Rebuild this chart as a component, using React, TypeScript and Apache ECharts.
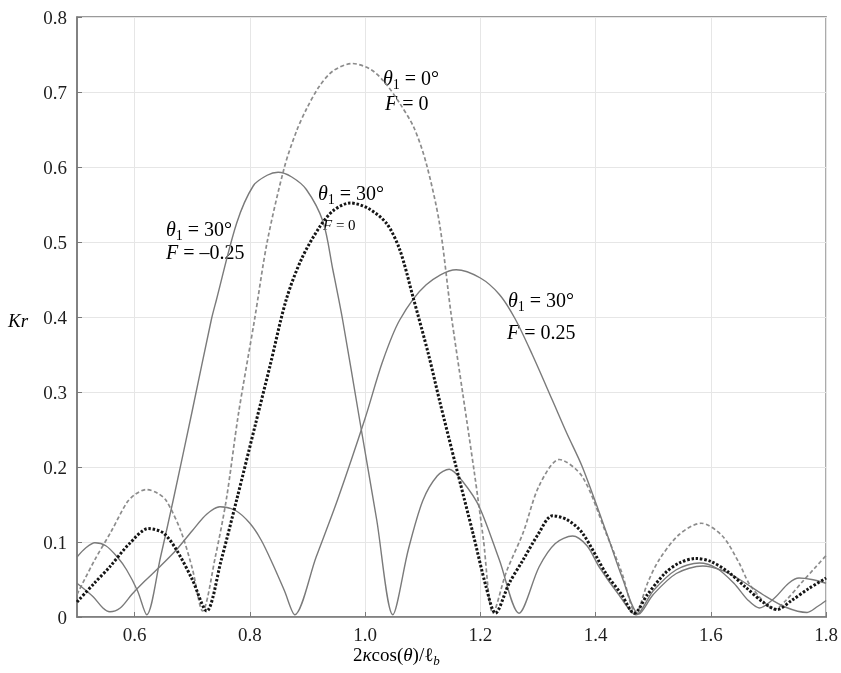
import React, { useEffect, useRef } from "react";
import * as echarts from "echarts";

// ---------- data ----------
const xTickValues = [0.6, 0.8, 1.0, 1.2, 1.4, 1.6, 1.8];

// theta1 = 0°, F = 0 (gray dashed)
const theta0X = [0.5,0.53,0.56,0.586,0.6,0.62,0.64,0.655,0.68,0.7,0.718,0.74,0.759,0.78,0.808,0.83,0.86,0.881,0.898,0.92,0.944,0.978,1.01,1.035,1.06,1.085,1.106,1.129,1.149,1.17,1.19,1.205,1.222,1.245,1.274,1.302,1.337,1.377,1.418,1.445,1.47,1.49,1.51,1.545,1.583,1.62,1.649,1.666,1.69,1.71,1.73,1.76,1.78,1.8];
const theta0Y = [0.03,0.075,0.115,0.152,0.163,0.17,0.165,0.155,0.115,0.065,0.008,0.08,0.156,0.27,0.396,0.5,0.6,0.648,0.677,0.707,0.728,0.738,0.73,0.712,0.685,0.652,0.605,0.525,0.405,0.295,0.19,0.105,0.005,0.06,0.112,0.175,0.21,0.187,0.112,0.06,0.005,0.045,0.076,0.11,0.125,0.108,0.072,0.045,0.022,0.01,0.022,0.048,0.065,0.082];

// theta1 = 30°, F = 0 (black dotted)
const t30F0X = [0.5,0.53,0.557,0.59,0.624,0.65,0.673,0.7,0.725,0.75,0.777,0.81,0.835,0.863,0.89,0.921,0.945,0.974,1.005,1.037,1.06,1.083,1.11,1.129,1.158,1.187,1.21,1.226,1.25,1.274,1.3,1.325,1.35,1.377,1.418,1.445,1.467,1.49,1.52,1.545,1.574,1.6,1.63,1.66,1.69,1.715,1.74,1.77,1.8];
const t30F0Y = [0.02,0.045,0.067,0.097,0.118,0.112,0.089,0.05,0.008,0.075,0.156,0.258,0.335,0.423,0.478,0.52,0.542,0.552,0.545,0.525,0.49,0.427,0.35,0.289,0.2,0.112,0.04,0.005,0.045,0.076,0.11,0.135,0.13,0.112,0.058,0.03,0.005,0.03,0.058,0.072,0.078,0.074,0.06,0.04,0.02,0.01,0.022,0.038,0.052];

// theta1 = 30°, F = -0.25 (gray solid)
const t30FmX = [0.5,0.515,0.531,0.55,0.57,0.586,0.605,0.621,0.645,0.667,0.7,0.733,0.742,0.777,0.806,0.83,0.849,0.872,0.898,0.927,0.944,0.961,0.99,1.02,1.048,1.075,1.1,1.125,1.146,1.17,1.198,1.233,1.267,1.302,1.33,1.36,1.385,1.406,1.44,1.47,1.5,1.54,1.58,1.61,1.64,1.665,1.684,1.71,1.735,1.753,1.775,1.8];
const t30FmY = [0.08,0.092,0.099,0.095,0.08,0.063,0.035,0.003,0.08,0.156,0.275,0.396,0.423,0.525,0.575,0.589,0.593,0.587,0.57,0.527,0.463,0.396,0.265,0.13,0.003,0.09,0.155,0.188,0.197,0.18,0.147,0.076,0.005,0.067,0.098,0.108,0.095,0.067,0.03,0.003,0.035,0.063,0.072,0.065,0.045,0.022,0.012,0.025,0.045,0.052,0.05,0.045];

// theta1 = 30°, F = 0.25 (gray solid)
const t30FpX = [0.5,0.528,0.545,0.557,0.575,0.595,0.615,0.645,0.673,0.7,0.725,0.748,0.775,0.8,0.82,0.84,0.86,0.878,0.915,0.952,1.0,1.03,1.06,1.106,1.158,1.2,1.233,1.26,1.29,1.325,1.35,1.377,1.42,1.445,1.475,1.5,1.54,1.586,1.62,1.65,1.69,1.73,1.767,1.785,1.8];
const t30FpY = [0.045,0.027,0.012,0.007,0.012,0.03,0.046,0.068,0.09,0.115,0.137,0.147,0.142,0.125,0.102,0.07,0.035,0.003,0.08,0.156,0.265,0.34,0.396,0.443,0.463,0.452,0.43,0.398,0.35,0.289,0.245,0.2,0.11,0.055,0.004,0.03,0.058,0.068,0.062,0.05,0.03,0.013,0.006,0.014,0.022];

const zip = (xs: number[], ys: number[]) => xs.map((x, i) => [x, ys[i]]);

const SERIF = "Liberation Serif";
const TXT = "#1e1e1e";
const AXIS = "#7a7a7a";
const GRIDC = "#e6e6e6";

function richFor(size: number) {
  const lh = Math.round(size * 1.35);
  const ss = Math.round(size * 0.68);
  return {
    n: { fontFamily: SERIF, fontSize: size, lineHeight: lh, color: TXT },
    i: { fontFamily: SERIF, fontSize: size, fontStyle: "italic", lineHeight: lh, color: TXT },
    s: { fontFamily: SERIF, fontSize: ss, lineHeight: ss, verticalAlign: "bottom", color: TXT },
    si: { fontFamily: SERIF, fontSize: ss, fontStyle: "italic", lineHeight: ss, verticalAlign: "bottom", color: TXT },
  };
}

// x = left edge, cy = vertical centre of the text line
function txt(x: number, cy: number, text: string, size: number) {
  const lh = Math.round(size * 1.35);
  return {
    type: "text",
    x,
    y: cy - lh / 2,
    style: { text, rich: richFor(size) },
  };
}

export default function App() {
  const ref = useRef<HTMLDivElement>(null);
  useEffect(() => {
    if (!ref.current) return;
    const chart = echarts.init(ref.current, undefined, { renderer: "svg" });
    const tick = { show: true, inside: true, length: 5, lineStyle: { color: AXIS, width: 1 } };
    const option: any = {
      animation: false,
      grid: { left: 77, right: 14, top: 17, bottom: 56, show: true, borderColor: AXIS, borderWidth: 1.5 },
      xAxis: [
        {
          type: "value",
          min: 0.5,
          max: 1.8,
          axisLine: { show: true, onZero: false, lineStyle: { color: AXIS, width: 1.5 } },
          axisTick: { ...tick, customValues: xTickValues },
          axisLabel: {
            customValues: xTickValues,
            fontFamily: SERIF,
            fontSize: 19,
            color: TXT,
            margin: 8,
            formatter: (v: number) => v.toFixed(1),
          },
          splitLine: { show: true, lineStyle: { color: GRIDC, width: 1 } },
        },
      ],
      yAxis: [
        {
          type: "value",
          min: 0,
          max: 0.8,
          interval: 0.1,
          axisLine: { show: true, onZero: false, lineStyle: { color: AXIS, width: 1.5 } },
          axisTick: tick,
          axisLabel: {
            fontFamily: SERIF,
            fontSize: 19,
            color: TXT,
            margin: 10,
            formatter: (v: number) => (v === 0 ? "0" : v.toFixed(1)),
          },
          splitLine: { show: true, lineStyle: { color: GRIDC, width: 1 } },
        },
      ],
      series: [
        {
          type: "line",
          data: zip(theta0X, theta0Y),
          showSymbol: false,
          smooth: 0.3,
          lineStyle: { color: "#8c8c8c", width: 1.7, type: [4, 2.5] },
        },
        {
          type: "line",
          data: zip(t30FmX, t30FmY),
          showSymbol: false,
          smooth: 0.3,
          lineStyle: { color: "#7a7a7a", width: 1.4 },
        },
        {
          type: "line",
          data: zip(t30FpX, t30FpY),
          showSymbol: false,
          smooth: 0.3,
          lineStyle: { color: "#7a7a7a", width: 1.4 },
        },
        {
          type: "line",
          data: zip(t30F0X, t30F0Y),
          showSymbol: false,
          smooth: 0.3,
          lineStyle: { color: "#151515", width: 3, type: [2.5, 1.8] },
        },
      ],
      graphic: [
        txt(383, 78, "{i|θ}{s|1}{n| = 0°}", 20),
        txt(385, 103, "{i|F}{n| = 0}", 20),
        txt(318, 193, "{i|θ}{s|1}{n| = 30°}", 20),
        txt(323, 225, "{i|F}{n| = 0}", 15),
        txt(166, 229, "{i|θ}{s|1}{n| = 30°}", 20),
        txt(166, 252, "{i|F}{n| = –0.25}", 20),
        txt(508, 300, "{i|θ}{s|1}{n| = 30°}", 20),
        txt(507, 332, "{i|F}{n| = 0.25}", 20),
        txt(8, 320, "{i|Kr}", 19),
        txt(353, 654, "{n|2}{i|κ}{n|cos(}{i|θ}{n|)/ℓ}{si|b}", 19),
      ],
    };
    chart.setOption(option);
    return () => chart.dispose();
  }, []);
  return <div ref={ref} style={{ position: "fixed", left: 0, top: 0, width: 841, height: 673 }} />;
}
